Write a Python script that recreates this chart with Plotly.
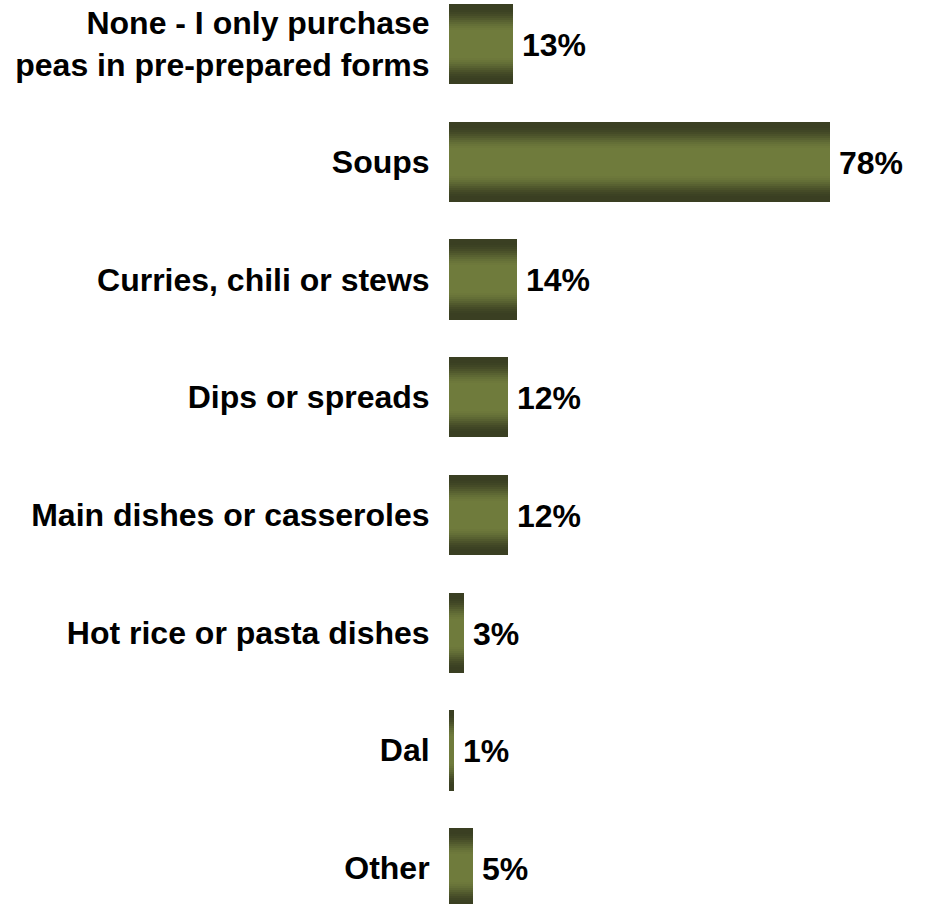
import plotly.graph_objects as go

categories = [
    "None - I only purchase<br>peas in pre-prepared forms",
    "Soups",
    "Curries, chili or stews",
    "Dips or spreads",
    "Main dishes or casseroles",
    "Hot rice or pasta dishes",
    "Dal",
    "Other",
]
values = [13, 78, 14, 12, 12, 3, 1, 5]
value_labels = ["13%", "78%", "14%", "12%", "12%", "3%", "1%", "5%"]

positions = list(range(len(categories)))

DARK = (58, 63, 34)
MID = (111, 123, 60)
BAR_WIDTH = 0.68
N_SLICES = 40
FONT = "Liberation Sans, Arial, sans-serif"


def slice_color(t):
    d = abs(2 * t - 1)
    if d < 0.3:
        s = 0.0
    else:
        s = min(1.0, (d - 0.3) / 0.6)
        s = s * s * (3 - 2 * s)
    c = [round(MID[k] + (DARK[k] - MID[k]) * s) for k in range(3)]
    return f"rgb({c[0]},{c[1]},{c[2]})"


fig = go.Figure()
step = BAR_WIDTH / N_SLICES
for i in range(N_SLICES):
    t = (i + 0.5) / N_SLICES
    fig.add_trace(go.Bar(
        x=values,
        y=positions,
        orientation="h",
        width=step * 1.15,
        offset=-BAR_WIDTH / 2 + i * step,
        marker=dict(color=slice_color(t), line=dict(width=0)),
        hoverinfo="skip",
        showlegend=False,
    ))

for v, p, lab in zip(values, positions, value_labels):
    fig.add_annotation(
        x=v, y=p, text=lab, showarrow=False,
        xanchor="left", yanchor="middle", xshift=7, yshift=-1,
        font=dict(family=FONT, size=32, color="black", weight="bold"),
    )

fig.update_layout(
    width=928, height=904,
    margin=dict(l=449, r=0, t=0, b=0),
    barmode="overlay",
    bargap=0,
    plot_bgcolor="white",
    paper_bgcolor="white",
    font=dict(family=FONT, color="black"),
    xaxis=dict(range=[0, 98], visible=False, fixedrange=True),
    yaxis=dict(
        range=[7.306, -0.374],
        tickvals=positions,
        ticktext=categories,
        showgrid=False, zeroline=False, showline=False,
        ticks="outside", ticklen=12, tickcolor="rgba(0,0,0,0)",
        tickfont=dict(family=FONT, size=32, color="black", weight="bold"),
        ticklabeloverflow="allow",
        automargin=False,
        fixedrange=True,
    ),
)

fig.write_html(
    "out.html",
    config={"displayModeBar": False, "staticPlot": True},
    post_script="document.body.style.margin='0';document.body.style.overflow='hidden';",
)
